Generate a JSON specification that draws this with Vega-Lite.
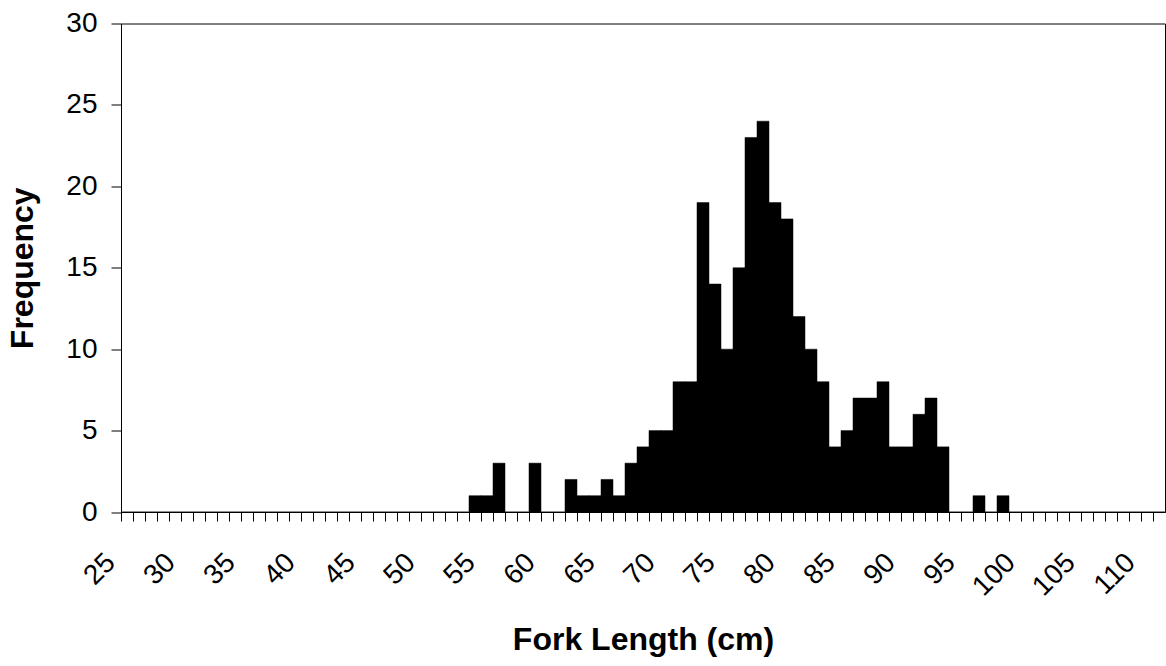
{
  "$schema": "https://vega.github.io/schema/vega-lite/v6.json",
  "width": 1044,
  "height": 488.5,
  "autosize": {"type": "none"},
  "padding": {"left": 121, "top": 23.5, "right": 1, "bottom": 154},
  "background": "white",
  "data": {
    "values": [
      {"length": 25, "count": 0}, {"length": 26, "count": 0}, {"length": 27, "count": 0}, {"length": 28, "count": 0},
      {"length": 29, "count": 0}, {"length": 30, "count": 0}, {"length": 31, "count": 0}, {"length": 32, "count": 0},
      {"length": 33, "count": 0}, {"length": 34, "count": 0}, {"length": 35, "count": 0}, {"length": 36, "count": 0},
      {"length": 37, "count": 0}, {"length": 38, "count": 0}, {"length": 39, "count": 0}, {"length": 40, "count": 0},
      {"length": 41, "count": 0}, {"length": 42, "count": 0}, {"length": 43, "count": 0}, {"length": 44, "count": 0},
      {"length": 45, "count": 0}, {"length": 46, "count": 0}, {"length": 47, "count": 0}, {"length": 48, "count": 0},
      {"length": 49, "count": 0}, {"length": 50, "count": 0}, {"length": 51, "count": 0}, {"length": 52, "count": 0},
      {"length": 53, "count": 0}, {"length": 54, "count": 1}, {"length": 55, "count": 1}, {"length": 56, "count": 3},
      {"length": 57, "count": 0}, {"length": 58, "count": 0}, {"length": 59, "count": 3}, {"length": 60, "count": 0},
      {"length": 61, "count": 0}, {"length": 62, "count": 2}, {"length": 63, "count": 1}, {"length": 64, "count": 1},
      {"length": 65, "count": 2}, {"length": 66, "count": 1}, {"length": 67, "count": 3}, {"length": 68, "count": 4},
      {"length": 69, "count": 5}, {"length": 70, "count": 5}, {"length": 71, "count": 8}, {"length": 72, "count": 8},
      {"length": 73, "count": 19}, {"length": 74, "count": 14}, {"length": 75, "count": 10}, {"length": 76, "count": 15},
      {"length": 77, "count": 23}, {"length": 78, "count": 24}, {"length": 79, "count": 19}, {"length": 80, "count": 18},
      {"length": 81, "count": 12}, {"length": 82, "count": 10}, {"length": 83, "count": 8}, {"length": 84, "count": 4},
      {"length": 85, "count": 5}, {"length": 86, "count": 7}, {"length": 87, "count": 7}, {"length": 88, "count": 8},
      {"length": 89, "count": 4}, {"length": 90, "count": 4}, {"length": 91, "count": 6}, {"length": 92, "count": 7},
      {"length": 93, "count": 4}, {"length": 94, "count": 0}, {"length": 95, "count": 0}, {"length": 96, "count": 1},
      {"length": 97, "count": 0}, {"length": 98, "count": 1}, {"length": 99, "count": 0}, {"length": 100, "count": 0},
      {"length": 101, "count": 0}, {"length": 102, "count": 0}, {"length": 103, "count": 0}, {"length": 104, "count": 0},
      {"length": 105, "count": 0}, {"length": 106, "count": 0}, {"length": 107, "count": 0}, {"length": 108, "count": 0},
      {"length": 109, "count": 0}, {"length": 110, "count": 0}, {"length": 111, "count": 0}
    ]
  },
  "mark": {"type": "bar", "color": "#000000", "stroke": "#000000", "strokeWidth": 0.5},
  "encoding": {
    "x": {
      "field": "length",
      "type": "ordinal",
      "scale": {"paddingInner": 0, "paddingOuter": 0},
      "axis": {
        "title": "Fork Length (cm)",
        "bandPosition": 0,
        "labelAngle": -45,
        "labelAlign": "right",
        "labelBaseline": "middle",
        "labelOffset": -16,
        "labelPadding": 37,
        "labelOverlap": false,
        "labelExpr": "datum.value % 5 == 0 ? datum.label : ''",
        "tickSize": 9,
        "titlePadding": 24
      }
    },
    "y": {
      "field": "count",
      "type": "quantitative",
      "scale": {"domain": [0, 30], "nice": false},
      "axis": {
        "title": "Frequency",
        "values": [0, 5, 10, 15, 20, 25, 30],
        "grid": false,
        "tickSize": 10,
        "labelPadding": 14,
        "titlePadding": 26
      }
    }
  },
  "config": {
    "view": {"stroke": "#000000", "strokeWidth": 1},
    "axis": {
      "domainColor": "#000000",
      "tickColor": "#000000",
      "labelColor": "#000000",
      "titleColor": "#000000",
      "labelFont": "Liberation Sans",
      "labelFontSize": 28,
      "titleFont": "Liberation Sans",
      "titleFontSize": 32,
      "titleFontWeight": "bold",
      "domainWidth": 1,
      "tickWidth": 1
    }
  }
}
